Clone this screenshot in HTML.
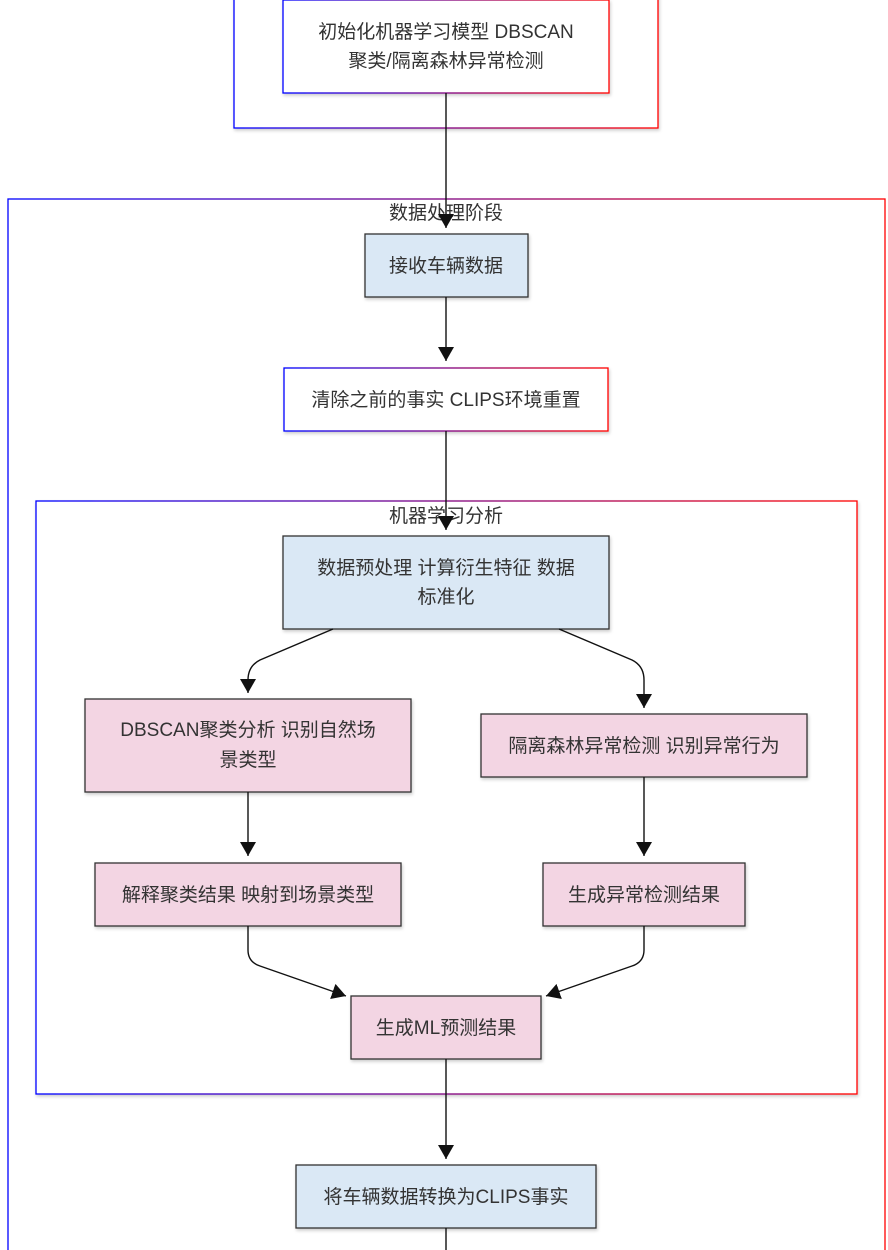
<!DOCTYPE html>
<html><head><meta charset="utf-8"><style>
html,body{margin:0;padding:0;background:#fff;}
svg{display:block;}
text{font-family:"Liberation Sans","Noto Sans CJK SC",sans-serif;font-size:19px;fill:#333;text-anchor:middle;}
</style></head><body>
<svg width="888" height="1250" viewBox="0 0 888 1250" xmlns="http://www.w3.org/2000/svg">
<defs>
<linearGradient id="g" x1="0" y1="0" x2="1" y2="0"><stop offset="0" stop-color="#0000ff"/><stop offset="1" stop-color="#ff0000"/></linearGradient>
<marker id="a" viewBox="0 0 14 16" refX="14" refY="8" markerWidth="14" markerHeight="16" markerUnits="userSpaceOnUse" orient="auto"><path d="M0,0L14,8L0,16z" fill="#111"/></marker>
<filter id="s" x="-5%" y="-5%" width="110%" height="120%"><feDropShadow dx="1" dy="2" stdDeviation="1.5" flood-color="#000" flood-opacity="0.2"/></filter>
</defs>
<g fill="none" stroke="url(#g)" stroke-width="1.3">
<rect x="234" y="-10" width="424" height="138" filter="url(#s)" fill="#fff"/>
<rect x="8" y="199" width="877" height="1070" fill="#fff"/>
<rect x="36" y="501" width="821" height="593" filter="url(#s)" fill="#fff"/>
</g>
<text x="446" y="219">数据处理阶段</text>
<text x="446" y="522">机器学习分析</text>
<g stroke="#333" stroke-width="1.3" filter="url(#s)">
<rect x="283" y="0" width="326" height="93" fill="#fff" stroke="url(#g)"/>
<rect x="365" y="234" width="163" height="63" fill="#dae8f5"/>
<rect x="284" y="368" width="324" height="63" fill="#fff" stroke="url(#g)"/>
<rect x="283" y="536" width="326" height="93" fill="#dae8f5"/>
<rect x="85" y="699" width="326" height="93" fill="#f3d5e3"/>
<rect x="481" y="714" width="326" height="63" fill="#f3d5e3"/>
<rect x="95" y="863" width="306" height="63" fill="#f3d5e3"/>
<rect x="543" y="863" width="202" height="63" fill="#f3d5e3"/>
<rect x="351" y="996" width="190" height="63" fill="#f3d5e3"/>
<rect x="296" y="1165" width="300" height="63" fill="#dae8f5"/>
</g>
<g fill="none" stroke="#111" stroke-width="1.4" marker-end="url(#a)">
<path d="M446 93V228"/>
<path d="M446 297V361"/>
<path d="M446 431V530"/>
<path d="M333 629L260 660Q248 666 248 680V693"/>
<path d="M559 629L632 660Q644 666 644 680V708"/>
<path d="M248 792V856"/>
<path d="M644 777V856"/>
<path d="M248 926V950Q248 962 260 966L346 996"/>
<path d="M644 926V950Q644 962 632 966L546 996"/>
<path d="M446 1059V1159"/>
</g>
<path d="M446 1228V1250" stroke="#111" stroke-width="1.4"/>
<text x="446" y="38">初始化机器学习模型 DBSCAN</text>
<text x="446" y="67">聚类/隔离森林异常检测</text>
<text x="446" y="272">接收车辆数据</text>
<text x="446" y="406">清除之前的事实 CLIPS环境重置</text>
<text x="446" y="574">数据预处理 计算衍生特征 数据</text>
<text x="446" y="603">标准化</text>
<text x="248" y="736">DBSCAN聚类分析 识别自然场</text>
<text x="248" y="766">景类型</text>
<text x="644" y="752">隔离森林异常检测 识别异常行为</text>
<text x="248" y="901">解释聚类结果 映射到场景类型</text>
<text x="644" y="901">生成异常检测结果</text>
<text x="446" y="1034">生成ML预测结果</text>
<text x="446" y="1203">将车辆数据转换为CLIPS事实</text>
</svg>
</body></html>
